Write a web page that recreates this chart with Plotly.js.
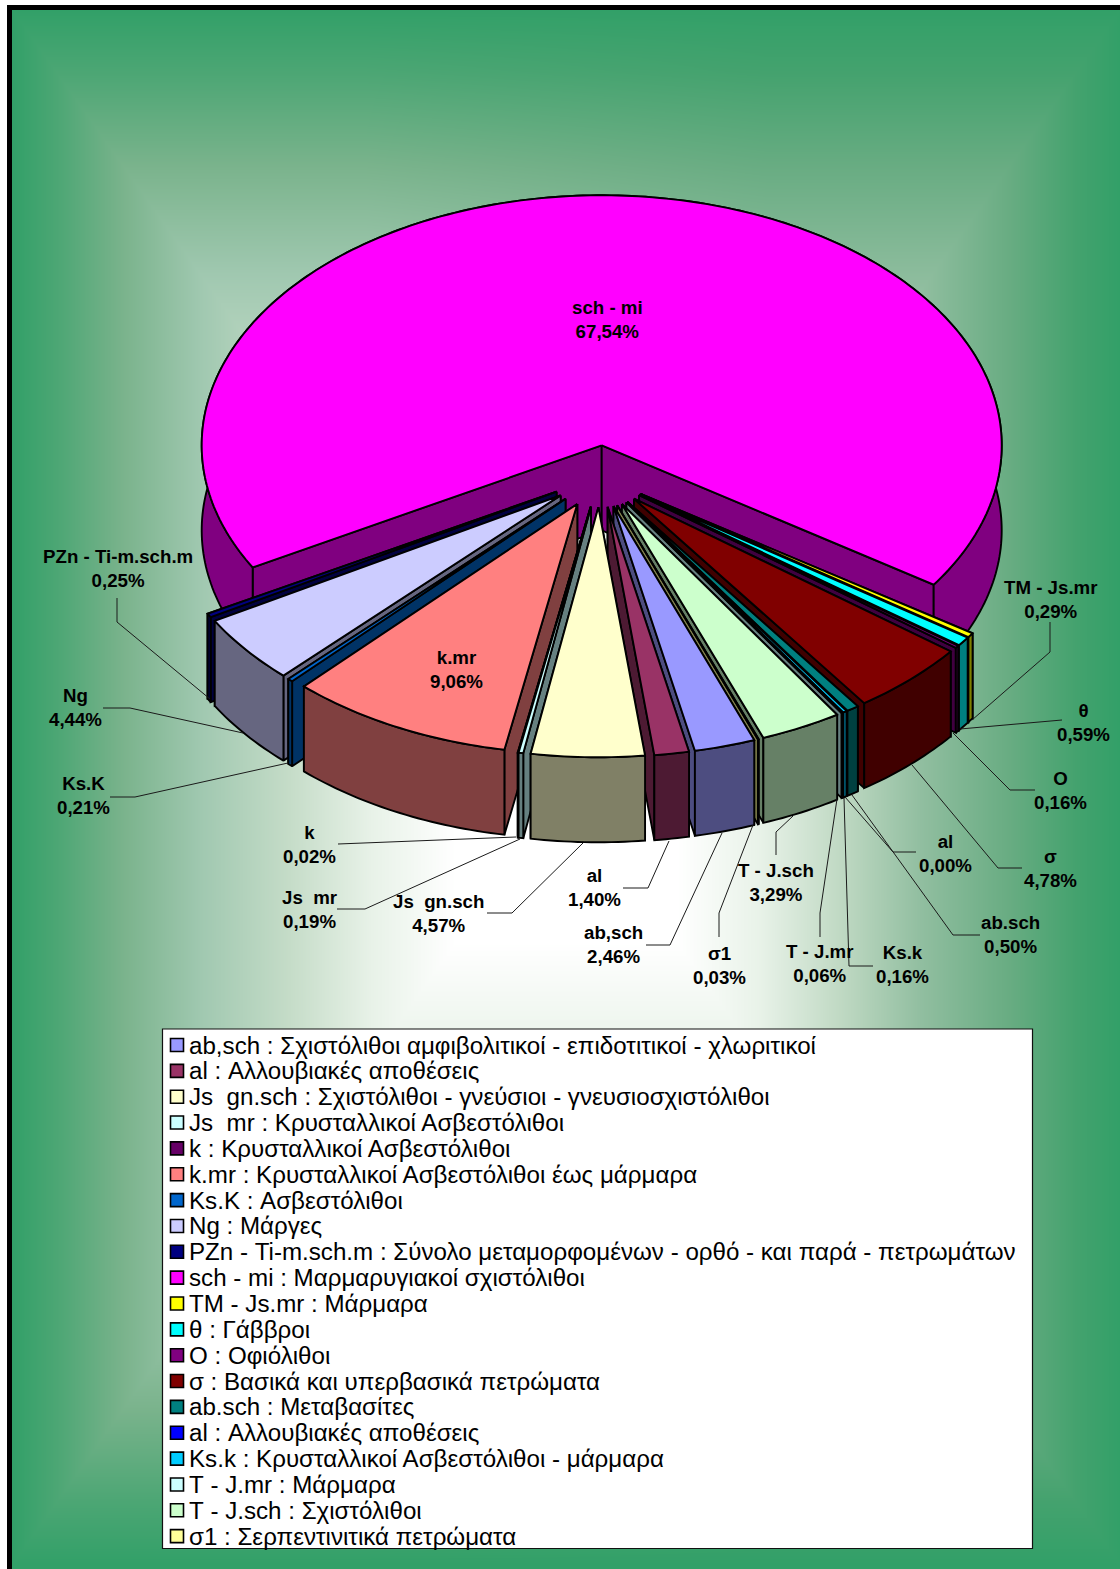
<!DOCTYPE html>
<html>
<head>
<meta charset="utf-8">
<script src="https://cdn.plot.ly/plotly-3.0.1.min.js"></script>
<style>html,body{margin:0;padding:0;background:#fff}#chart{width:1120px;height:1569px}</style>
</head>
<body>
<div id="chart"></div>
<script>
// ---------- data ----------
const codes = ["ab,sch","al","Js  gn.sch","Js  mr","k","k.mr","Ks.K","Ng","PZn - Ti-m.sch.m","sch - mi","TM - Js.mr","θ","O","σ","ab.sch","al","Ks.k","T - J.mr","T - J.sch","σ1"];
const descriptions = ["Σχιστόλιθοι αμφιβολιτικοί - επιδοτιτικοί - χλωριτικοί","Αλλουβιακές αποθέσεις","Σχιστόλιθοι - γνεύσιοι - γνευσιοσχιστόλιθοι","Κρυσταλλικοί Ασβεστόλιθοι","Κρυσταλλικοί Ασβεστόλιθοι","Κρυσταλλικοί Ασβεστόλιθοι έως μάρμαρα","Ασβεστόλιθοι","Μάργες","Σύνολο μεταμορφομένων - ορθό - και παρά - πετρωμάτων","Μαρμαρυγιακοί σχιστόλιθοι","Μάρμαρα","Γάββροι","Οφιόλιθοι","Βασικά και υπερβασικά πετρώματα","Μεταβασίτες","Αλλουβιακές αποθέσεις","Κρυσταλλικοί Ασβεστόλιθοι - μάρμαρα","Μάρμαρα","Σχιστόλιθοι","Σερπεντινιτικά πετρώματα"];
const percents = [2.46,1.40,4.57,0.19,0.02,9.06,0.21,4.44,0.25,67.54,0.29,0.59,0.16,4.78,0.50,0.00,0.16,0.06,3.29,0.03];
const colors = ["#9999FF","#993366","#FFFFCC","#CCFFFF","#660066","#FF8080","#0066CC","#CCCCFF","#000080","#FF00FF","#FFFF00","#00FFFF","#800080","#800000","#008080","#0000FF","#00CCFF","#CCFFFF","#CCFFCC","#FFFF99"];

// ---------- label placement (centre of label, leader polyline), pixels ----------
const labelCentres = [[613,944.5],[594,887.5],[438,913.5],[309,909.5],[309,844.5],[456,669.5],[83,795.5],[75,707.5],[118,568.5],[607,319.5],[1050,599.5],[1083,722.5],[1060,790.5],[1050,868.5],[1010,934.5],[945,853.5],[902,964.5],[820,963.5],[776,882.5],[719,965.5]];
const leaderPaths = [
 [[722,833],[670,945],[646,945]],
 [[669,841],[648,888],[623,888]],
 [[583,843],[512,913],[487,913]],
 [[520,839],[365,909],[337,909]],
 [[516,837],[338,844]],
 null,
 [[288,763],[135,797],[110,797]],
 [[243,733],[130,708],[103,708]],
 [[210,699],[117,622],[117,598]],
 null,
 [[972,720],[1050,652],[1050,622]],
 [[960,729],[1062,720]],
 [[953,733],[1010,790],[1035,790]],
 [[912,765],[998,868],[1022,868]],
 [[852,795],[953,935],[980,935]],
 [[845,797],[893,852],[916,852]],
 [[844,798],[849,966],[873,966]],
 [[837,799],[820,913],[820,937]],
 [[793,816],[776,832],[776,855]],
 [[753,825],[719,913],[719,937]]
];

// ---------- geometry ----------
const RX = 400, RY = 250, DEPTH = 85, EXPLODE = 0.124, FIRST_ANGLE = 159.4;
const MAIN_APEX = [601.7, 445.3];
const rad = d => d * Math.PI / 180;
const total = percents.reduce((a, b) => a + b, 0);
let cum = FIRST_ANGLE;
const slices = percents.map((p, i) => {
  const a0 = cum, a1 = cum + p / total * 360; cum = a1;
  return {i, a0, a1, mid: (a0 + a1) / 2};
});
const mainMid = slices[9].mid;
const centre = [MAIN_APEX[0] - EXPLODE * RX * Math.sin(rad(mainMid)),
                MAIN_APEX[1] + EXPLODE * RY * Math.cos(rad(mainMid))];
const half = c => {
  const n = parseInt(c.slice(1), 16);
  const f = v => Math.round(v / 2).toString(16).padStart(2, "0");
  return "#" + f(n >> 16) + f((n >> 8) & 255) + f(n & 255);
};
function poly(pts, fill, name) {
  return {type: "scatter", mode: "lines", x: pts.map(p => p[0]), y: pts.map(p => p[1]),
    fill: "toself", fillcolor: fill, line: {color: "#000", width: 1.9, shape: "linear", simplify: false},
    hoverinfo: "skip", showlegend: false, name};
}
const traces = [];
const norm = m => ((m % 360) + 360) % 360;
const order = slices.slice().sort((s, t) => Math.abs(norm(t.mid) - 180) - Math.abs(norm(s.mid) - 180));
order.forEach(s => {
  const e = rad(s.mid);
  const ax = centre[0] + EXPLODE * RX * Math.sin(e);
  const ay = centre[1] - EXPLODE * RY * Math.cos(e);
  const P = a => [ax + RX * Math.sin(rad(a)), ay - RY * Math.cos(rad(a))];
  const down = p => [p[0], p[1] + DEPTH];
  const arc = [];
  const n = Math.max(2, Math.ceil(s.a1 - s.a0) + 1);
  for (let k = 0; k < n; k++) arc.push(P(s.a0 + (s.a1 - s.a0) * k / (n - 1)));
  const apex = [ax, ay], wall = half(colors[s.i]);
  const first = arc[0], last = arc[arc.length - 1];
  const faceA = poly([apex, first, down(first), down(apex), apex], wall, codes[s.i]);
  const faceB = poly([apex, last, down(last), down(apex), apex], wall, codes[s.i]);
  // the face turned towards the viewer goes last so the hidden one never pokes out
  if (norm(s.mid) > 180) traces.push(faceB, faceA); else traces.push(faceA, faceB);
  traces.push(poly(arc.concat(arc.slice().reverse().map(p => down(p)), [arc[0]]), wall, codes[s.i]));
  traces.push(poly([apex].concat(arc, [apex]), colors[s.i], codes[s.i]));
});
leaderPaths.forEach(path => {
  if (!path) return;
  traces.push({type: "scatter", mode: "lines", x: path.map(p => p[0]), y: path.map(p => p[1]),
    line: {color: "#1a1a1a", width: 1}, hoverinfo: "skip", showlegend: false});
});
// legend, built from the data arrays
const LEG_Y0 = 1045, LEG_STEP = 25.85;
const rowY = codes.map((c, i) => LEG_Y0 + i * LEG_STEP);
traces.push({type: "scatter", mode: "markers", x: codes.map(() => 177), y: rowY,
  marker: {symbol: "square", size: 13, color: colors, line: {color: "#000", width: 1.6}},
  hoverinfo: "skip", showlegend: false});
traces.push({type: "scatter", mode: "text", x: codes.map(() => 189), y: rowY.map(v => v + 2.5),
  text: codes.map((c, i) => c.replace(/ /g, "\u00a0") + " : " + descriptions[i]),
  textposition: "middle right",
  textfont: {family: "Liberation Sans, Arial, sans-serif", size: 24.15, color: "#000"},
  hoverinfo: "skip", showlegend: false});

const annotations = codes.map((c, i) => ({
  xref: "x", yref: "y", x: labelCentres[i][0], y: labelCentres[i][1],
  text: c.replace(/ /g, "\u00a0") + "<br>" + percents[i].toFixed(2).replace(".", ",") + "%",
  showarrow: false, xanchor: "center", yanchor: "middle", align: "center",
  font: {family: "Liberation Sans, Arial, sans-serif", size: 18.7, weight: 700, color: "#000"}
}));

// ---------- background: rectangular path gradient drawn once on a canvas ----------
// The left side fades a little lighter than the right; the two blend across the middle.
const stopsLeft = [[0,[255,255,255]],[0.2,[255,255,255]],[0.35,[232,242,232]],[0.5,[197,220,200]],[0.66,[160,200,176]],[0.8,[122,179,140]],[0.92,[76,166,116]],[1,[50,160,104]]];
const stopsRight = [[0,[255,255,255]],[0.2,[255,255,255]],[0.35,[232,242,232]],[0.5,[190,216,194]],[0.64,[145,190,160]],[0.8,[104,172,130]],[0.92,[68,162,110]],[1,[50,160,104]]];
function ramp(st, t, j) {
  let k = 0; while (k < st.length - 2 && t > st[k + 1][0]) k++;
  const u = (t - st[k][0]) / (st[k + 1][0] - st[k][0]);
  return st[k][1][j] + (st[k + 1][1][j] - st[k][1][j]) * u;
}
function bgImage() {
  const W = 1108, H = 1559, c = document.createElement("canvas");
  c.width = W; c.height = H;
  const g = c.getContext("2d"), im = g.createImageData(W, H);
  for (let y = 0; y < H; y++) for (let x = 0; x < W; x++) {
    const t = Math.min(1, Math.max(Math.abs(x + 12 - 566) / 554, Math.abs(y + 10 - 787) / 777));
    const w = Math.min(1, Math.max(0, (x + 12 - 366) / 400));
    const o = (y * W + x) * 4;
    for (let j = 0; j < 3; j++) im.data[o + j] = ramp(stopsLeft, t, j) * (1 - w) + ramp(stopsRight, t, j) * w;
    im.data[o + 3] = 255;
  }
  g.putImageData(im, 0, 0);
  return c.toDataURL("image/png");
}

const layout = {
  width: 1120, height: 1569, margin: {l: 0, r: 0, t: 0, b: 0},
  paper_bgcolor: "#fff", plot_bgcolor: "rgba(0,0,0,0)", showlegend: false,
  xaxis: {range: [0, 1120], visible: false, fixedrange: true},
  yaxis: {range: [1569, 0], visible: false, fixedrange: true},
  images: [{source: bgImage(), xref: "paper", yref: "paper", x: 12 / 1120, y: 1 - 10 / 1569,
    sizex: 1108 / 1120, sizey: 1559 / 1569, sizing: "stretch", xanchor: "left", yanchor: "top", layer: "below"}],
  shapes: [
    {type: "rect", xref: "x", yref: "y", x0: 9.5, y0: 7.5, x1: 1135, y1: 1585, line: {color: "#000", width: 5}, layer: "below"},
    {type: "rect", xref: "x", yref: "y", x0: 162.5, y0: 1029, x1: 1032.5, y1: 1548.5, fillcolor: "#fff", line: {color: "#111", width: 1.2}, layer: "below"}
  ],
  annotations
};
Plotly.newPlot("chart", traces, layout, {displayModeBar: false, staticPlot: true});
</script>
</body>
</html>
